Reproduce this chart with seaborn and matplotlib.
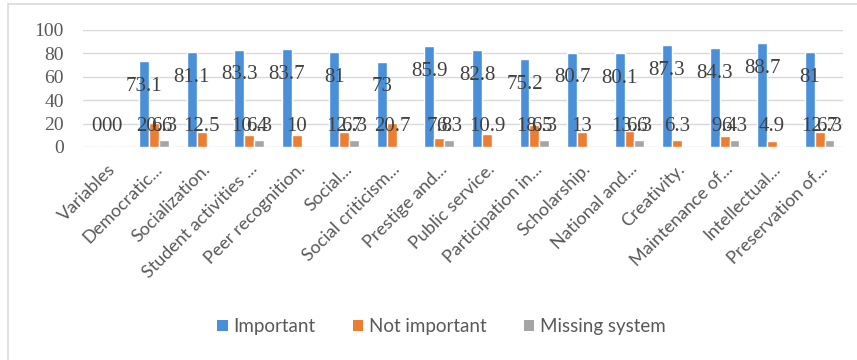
import numpy as np
import pandas as pd
import seaborn as sns
import matplotlib.pyplot as plt
from matplotlib.lines import Line2D
from matplotlib.patches import Patch

categories = [
    "Variables", "Democratic...", "Socialization.", "Student activities ...",
    "Peer recognition.", "Social...", "Social criticism...", "Prestige and...",
    "Public service.", "Participation in...", "Scholarship.", "National and...",
    "Creativity.", "Maintenance of...", "Intellectual...", "Preservation of...",
]
important = [0, 73.1, 81.1, 83.3, 83.7, 81, 73, 85.9, 82.8, 75.2, 80.7, 80.1, 87.3, 84.3, 88.7, 81]
not_important = [0, 20.6, 12.5, 10.4, 10, 12.7, 20.7, 7.8, 10.9, 18.5, 13, 13.6, 6.3, 9.4, 4.9, 12.7]
missing_system = [0, 6.3, np.nan, 6.3, np.nan, 6.3, np.nan, 6.3, np.nan, 6.3, np.nan, 6.3, np.nan, 6.3, np.nan, 6.3]
series_names = ["Important", "Not important", "Missing system"]
y_ticks = [0, 20, 40, 60, 80, 100]

colors = ["#4A90D9", "#ED7D31", "#A5A5A5"]

df = pd.DataFrame({
    "category": categories * 3,
    "series": [s for s in series_names for _ in categories],
    "value": important + not_important + missing_system,
})

sns.set_theme(style="white")
plt.rcParams["font.family"] = ["Lato", "DejaVu Sans"]

fig = plt.figure(figsize=(8.57, 3.6), dpi=100)
ax = fig.add_axes([0.097, 0.5917, 0.887, 0.325])

bar_width = 0.63
sns.barplot(data=df.dropna(), x="category", y="value", hue="series",
            order=categories, hue_order=series_names, palette=colors,
            width=bar_width, dodge=True, gap=0.0, ax=ax, legend=False,
            saturation=1.0, err_kws={"linewidth": 0})

ax.set_ylim(0, 100)
ax.set_xlim(-0.5, len(categories) - 0.5)
ax.set_yticks(y_ticks)
ax.set_yticklabels([str(t) for t in y_ticks], fontfamily="Liberation Serif",
                   fontsize=14, color="#595959")
ax.yaxis.grid(True, color="#D9D9D9", linewidth=1.0)
ax.set_axisbelow(True)
for s in ["left", "right", "top", "bottom"]:
    ax.spines[s].set_visible(False)
ax.tick_params(axis="y", length=0, pad=14)
ax.tick_params(axis="x", length=0, pad=10)
ax.set_xlabel("")
ax.set_ylabel("")

ax.set_xticks(range(len(categories)))
ax.set_xticklabels(categories, rotation=45, ha="right", rotation_mode="anchor",
                   fontsize=13, color="#595959")

# value labels over each bar
bw = bar_width / 3
for j, vals in enumerate([important, not_important, missing_system]):
    for i, v in enumerate(vals):
        if v is None or (isinstance(v, float) and np.isnan(v)):
            continue
        x = i + (j - 1) * bw
        y = max(v - 21.5, 17.5)
        ax.text(x, y, f"{v:g}", ha="center", va="center", fontsize=15,
                fontfamily="Liberation Serif", color="#404040")

handles = [Patch(facecolor=c, edgecolor="none") for c in colors]
fig.legend(handles, series_names, loc="center", bbox_to_anchor=(0.515, 0.093),
           ncol=3, frameon=False, fontsize=13.5, handlelength=0.55,
           handleheight=0.55, handletextpad=0.3, columnspacing=2.0,
           labelcolor="#595959")

# chart area border
fig.add_artist(Line2D([8 / 857, 1.0], [1 - 4 / 360, 1 - 4 / 360],
                      transform=fig.transFigure, color="#DADADA", linewidth=1.2))
fig.add_artist(Line2D([8 / 857, 8 / 857], [1 - 4 / 360, 0.0],
                      transform=fig.transFigure, color="#DADADA", linewidth=1.2))

fig.savefig("out.png", dpi=100, facecolor="white")
